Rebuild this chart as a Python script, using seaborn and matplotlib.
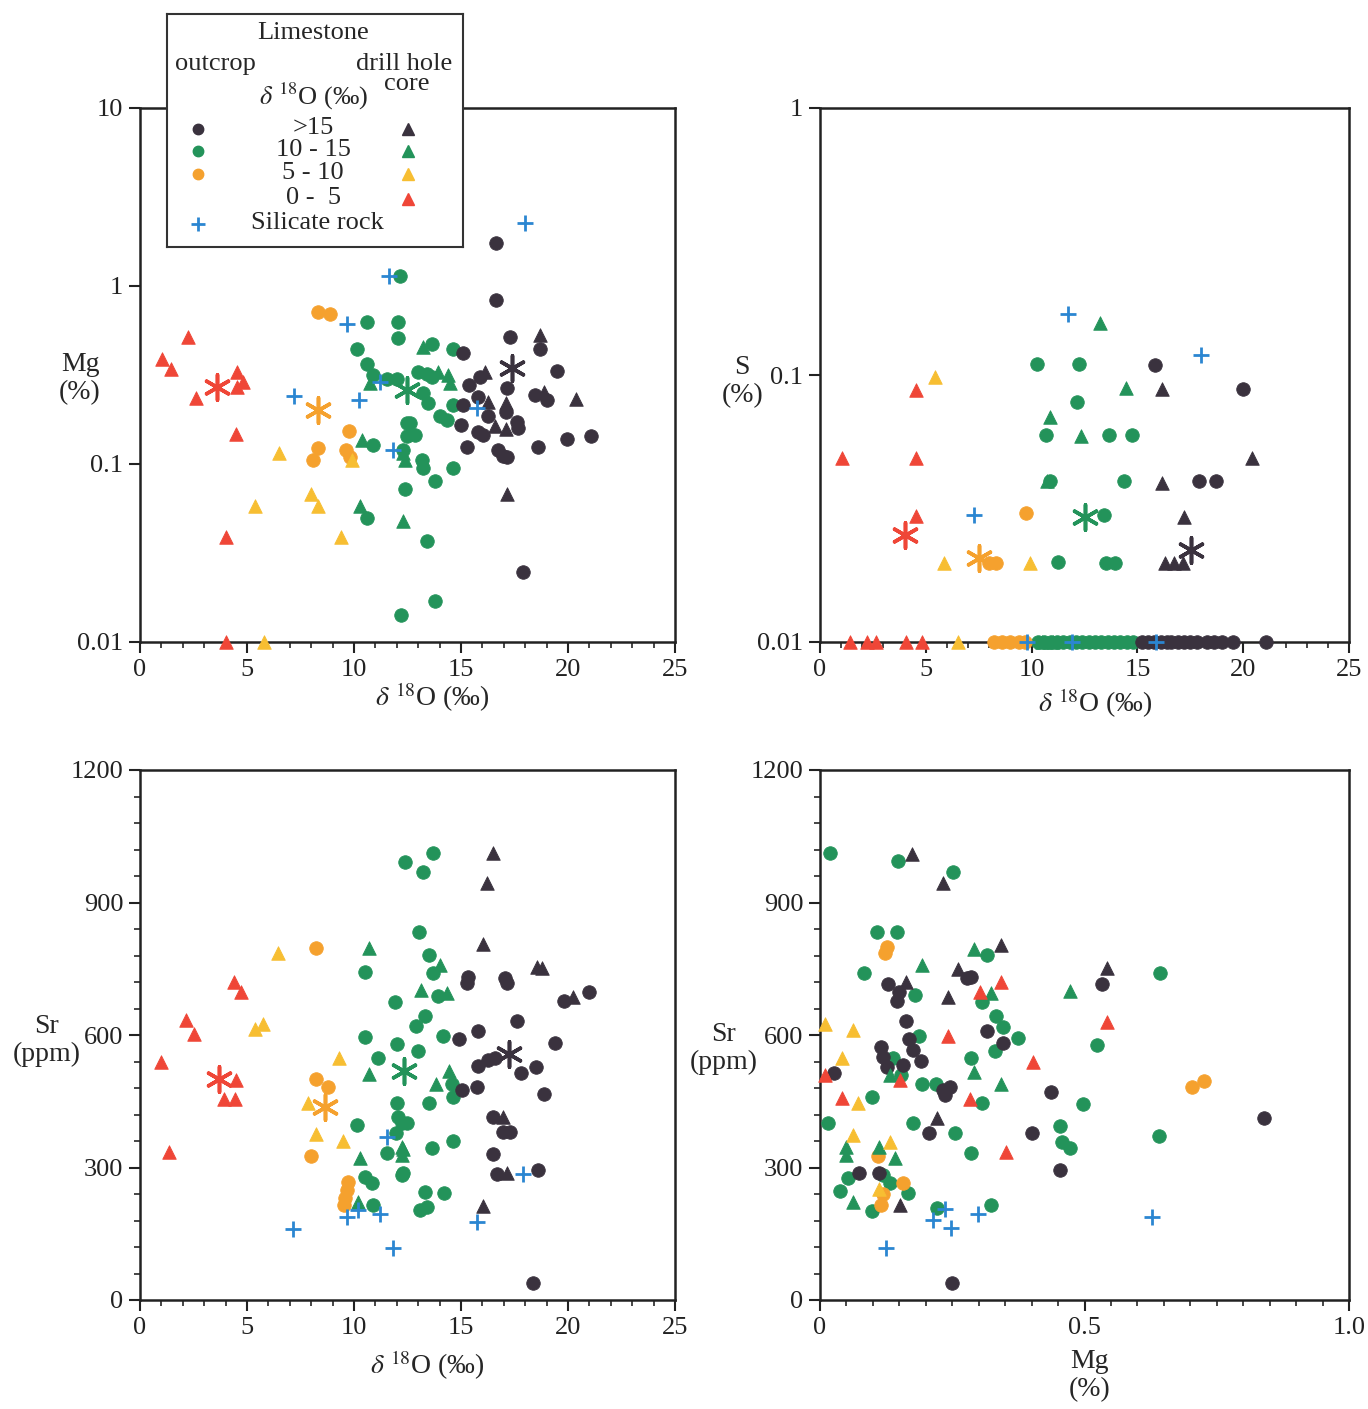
import numpy as np
import pandas as pd
import matplotlib
matplotlib.use("Agg")
import matplotlib.pyplot as plt
import matplotlib.ticker as mticker
from matplotlib.lines import Line2D
import seaborn as sns

# ---------------- data ----------------
# Panel A: Mg (%) vs d18O (permil)
A_dark_out = [(16.62,1.74),(16.62,0.83),(17.29,0.52),(18.69,0.44),(19.47,0.334),(15.89,0.31),(15.39,0.278),
              (17.17,0.266),(18.46,0.244),(19.0,0.229),(15.81,0.239),(15.11,0.214),(17.1,0.197),(16.28,0.185),
              (17.6,0.173),(17.68,0.159),(14.98,0.166),(15.81,0.152),(16.04,0.146),(19.97,0.139),(21.06,0.144),
              (15.26,0.124),(18.58,0.124),(16.74,0.12),(16.98,0.111),(17.13,0.11),(17.88,0.0248),(15.11,0.42)]
A_dark_core = [(18.69,0.53),(16.12,0.33),(18.88,0.255),(20.37,0.232),(16.28,0.224),(17.1,0.219),(16.59,0.163),
               (17.1,0.157),(17.13,0.068)]
A_green_out = [(12.15,1.14),(10.59,0.625),(12.07,0.625),(12.07,0.51),(10.16,0.44),(10.59,0.365),(10.9,0.316),
               (11.53,0.30),(12.0,0.30),(12.46,0.17),(12.46,0.143),(10.9,0.128),(12.3,0.12),(12.38,0.072),
               (10.59,0.0495),(12.2,0.0142),(13.63,0.47),(14.64,0.44),(13.0,0.33),(13.4,0.32),(13.63,0.31),
               (13.24,0.25),(13.47,0.22),(14.64,0.214),(14.02,0.185),(14.33,0.177),(12.62,0.17),(12.85,0.146),
               (13.16,0.105),(13.24,0.095),(14.64,0.095),(13.79,0.08),(13.4,0.037),(13.79,0.017)]
A_green_core = [(10.75,0.284),(10.36,0.136),(12.38,0.105),(10.28,0.058),(12.3,0.048),(13.24,0.456),(13.94,0.33),
                (14.41,0.316),(14.49,0.284),(12.3,0.115)]
A_orange_out = [(8.30,0.71),(8.88,0.70),(9.78,0.154),(8.30,0.123),(8.07,0.105),(9.63,0.12),(9.8,0.11)]
A_orange_core = [(9.89,0.105),(6.51,0.116),(7.98,0.068),(8.30,0.058),(5.37,0.058),(9.38,0.039),(5.79,0.01)]
A_red_core = [(2.23,0.52),(1.01,0.39),(1.43,0.34),(4.52,0.33),(4.8,0.29),(4.52,0.27),(2.62,0.234),
              (4.49,0.147),(4.0,0.039),(4.0,0.01)]
A_silicate = [(11.65,1.14),(9.69,0.61),(7.2,0.24),(10.25,0.23),(11.84,0.12),(17.99,2.27),(15.76,0.206),(11.2,0.29)]
A_means = {"dark": (17.37,0.345), "green": (12.48,0.26), "orange": (8.33,0.20), "red": (3.61,0.27)}

# Panel B: S (%) vs d18O (permil)
B_dark_out = [(15.85,0.109),(20.0,0.089),(17.89,0.040),(18.71,0.040),(15.2,0.01),(15.5,0.01),(15.8,0.01),
              (16.1,0.01),(16.4,0.01),(16.6,0.01),(16.9,0.01),(17.2,0.01),(17.5,0.01),(17.8,0.01),(18.3,0.01),
              (18.6,0.01),(19.0,0.01),(19.5,0.01),(21.1,0.01)]
B_dark_core = [(16.15,0.089),(20.4,0.049),(16.15,0.0395),(17.22,0.0295),(16.32,0.0197),(16.75,0.0197),(17.14,0.0197)]
B_green_out = [(10.25,0.110),(12.23,0.110),(12.14,0.079),(10.66,0.0596),(10.85,0.040),(11.24,0.020),
               (13.65,0.0596),(14.75,0.0596),(14.35,0.040),(13.44,0.030),(13.52,0.0197),(13.92,0.0197),
               (10.3,0.01),(10.6,0.01),(10.9,0.01),(11.2,0.01),(11.5,0.01),(11.8,0.01),(12.1,0.01),(12.4,0.01),
               (12.7,0.01),(13.0,0.01),(13.3,0.01),(13.6,0.01),(13.9,0.01),(14.2,0.01),(14.5,0.01),(14.8,0.01)]
B_green_core = [(13.24,0.157),(14.47,0.0892),(10.85,0.0695),(12.34,0.059),(10.75,0.040),(10.5,0.01),(11.0,0.01)]
B_orange_out = [(9.72,0.0303),(8.0,0.0197),(8.3,0.0197),(8.2,0.01),(8.6,0.01),(9.0,0.01),(9.4,0.01),(9.7,0.01)]
B_orange_core = [(5.42,0.098),(5.85,0.0197),(9.94,0.0197),(6.52,0.01)]
B_red_core = [(4.53,0.088),(1.02,0.049),(4.53,0.049),(4.53,0.0296),(1.42,0.01),(2.2,0.01),(2.64,0.01),
              (4.06,0.01),(4.84,0.01)]
B_silicate = [(11.71,0.169),(18.0,0.119),(7.26,0.030),(9.8,0.01),(11.9,0.01),(15.88,0.01)]
B_means = {"dark": (17.53,0.0221), "green": (12.5,0.0295), "orange": (7.51,0.0207), "red": (4.0,0.0251)}

# Panel C: Sr (ppm) vs d18O (permil)
C_dark_out = [(15.26,717),(15.34,732),(17.06,728),(17.16,717),(19.81,678),(20.99,698),(17.6,632),(14.92,591),
              (15.81,609),(19.39,583),(15.81,530),(16.28,543),(16.59,547),(17.79,515),(18.49,527),(15.03,475),
              (15.73,483),(18.88,466),(16.51,415),(16.98,381),(17.29,381),(16.51,330),(16.67,285),(18.61,294),
              (18.38,38)]
C_dark_core = [(16.51,1011),(16.2,945),(16.01,805),(18.53,755),(18.77,751),(20.25,687),(16.98,415),(17.13,287),
               (16.01,213)]
C_green_out = [(12.38,992),(13.71,1013),(13.21,968),(13.05,834),(13.52,781),(13.71,740),(10.51,743),(11.92,675),
               (13.94,688),(13.32,644),(12.9,620),(10.51,596),(12.0,580),(14.17,598),(11.14,547),(13.0,564),
               (14.57,490),(14.64,460),(12.0,445),(13.52,445),(10.12,396),(12.07,415),(12.23,400),(11.96,377),
               (12.46,400),(13.63,345),(14.61,361),(11.53,332),(12.3,287),(10.51,279),(10.83,264),(12.23,283),
               (10.9,215),(13.32,245),(14.21,242),(13.08,204),(13.4,211)]
C_green_core = [(10.72,796),(14.02,758),(13.12,702),(14.33,696),(10.72,512),(14.45,519),(13.83,490),(12.23,347),
                (12.23,328),(12.3,343),(10.28,321),(10.2,223)]
C_orange_out = [(8.22,798),(8.22,500),(8.8,483),(8.0,326),(9.73,268),(9.66,249),(9.58,230),(9.53,215)]
C_orange_core = [(6.43,785),(5.37,613),(5.73,625),(9.31,547),(7.87,447),(8.22,376),(9.5,359)]
C_red_core = [(4.41,721),(4.72,698),(2.15,634),(2.54,602),(0.97,540),(4.49,497),(3.94,456),(4.44,454),(1.37,336)]
C_silicate = [(11.56,370),(9.66,189),(10.2,204),(11.21,195),(7.13,160),(11.84,117),(17.91,285),(15.73,177)]
C_means = {"dark": (17.26,558), "green": (12.35,519), "orange": (8.64,438), "red": (3.71,500)}

# Panel D: Sr (ppm) vs Mg (%)
D_dark_out = [(0.277,728),(0.286,732),(0.128,715),(0.150,698),(0.145,678),(0.162,632),(0.169,590),(0.176,566),
              (0.316,609),(0.346,583),(0.115,572),(0.12,551),(0.19,542),(0.126,528),(0.156,532),(0.026,515),
              (0.233,475),(0.245,483),(0.236,464),(0.437,470),(0.206,379),(0.401,379),(0.454,294),(0.074,287),
              (0.112,287),(0.25,39),(0.533,715),(0.84,411)]
D_dark_core = [(0.173,1010),(0.233,945),(0.343,803),(0.261,749),(0.162,721),(0.242,687),(0.221,411),(0.152,215),
               (0.543,751)]
D_green_out = [(0.019,1013),(0.148,995),(0.252,970),(0.108,834),(0.145,834),(0.316,781),(0.084,740),(0.179,690),
               (0.307,674),(0.333,643),(0.346,619),(0.187,598),(0.374,594),(0.330,564),(0.138,547),(0.286,547),
               (0.154,509),(0.192,490),(0.22,490),(0.497,444),(0.098,459),(0.306,445),(0.016,401),(0.176,400),
               (0.255,379),(0.454,394),(0.458,358),(0.473,345),(0.286,332),(0.053,277),(0.12,283),(0.132,264),
               (0.167,243),(0.038,247),(0.098,202),(0.221,209),(0.324,215),(0.642,741),(0.523,577),(0.64,371)]
D_green_core = [(0.292,794),(0.192,758),(0.324,696),(0.472,700),(0.132,509),(0.292,517),(0.343,490),(0.05,347),
                (0.05,328),(0.112,347),(0.142,321),(0.062,223)]
D_orange_out = [(0.126,800),(0.123,785),(0.11,325),(0.157,266),(0.12,240),(0.116,215),(0.704,482),(0.726,496)]
D_orange_core = [(0.0094,626),(0.0617,611),(0.041,547),(0.072,447),(0.062,374),(0.132,358),(0.112,251)]
D_red_core = [(0.302,698),(0.343,719),(0.242,598),(0.402,538),(0.0094,509),(0.152,497),(0.041,457),(0.283,454),
              (0.352,336),(0.543,630)]
D_silicate = [(0.236,205),(0.213,181),(0.248,162),(0.299,195),(0.125,117),(0.628,189)]
D_means = {}

legend_rows = [">15", "10 - 15", "5 - 10", "0 -  5"]

# ---------------- styling ----------------
COL = {"dark": "#3a323e", "green": "#23935a", "orange": "#f5a12e", "orange_t": "#f7be32",
       "red": "#ef4637", "blue": "#2b86d1"}

sns.set_style("ticks")
plt.rcParams["font.family"] = ["Liberation Serif", "DejaVu Serif"]
plt.rcParams["mathtext.fontset"] = "stix"
plt.rcParams["axes.linewidth"] = 1.8
plt.rcParams["axes.edgecolor"] = "#222222"

FS = 19
fig = plt.figure(figsize=(13.68, 14.09), dpi=100)
fig.patch.set_facecolor("white")

W, H = 1368, 1409
def frac(l, t, r, b):
    return [l / W, 1 - b / H, (r - l) / W, (b - t) / H]

axA = fig.add_axes(frac(140, 108, 675, 642))
axB = fig.add_axes(frac(820, 108, 1349, 642))
axC = fig.add_axes(frac(140, 770, 675, 1300))
axD = fig.add_axes(frac(820, 770, 1349, 1300))


def to_df(pts):
    return pd.DataFrame(pts, columns=["x", "y"])


def draw(ax, groups, means):
    for pts, c in groups["out"]:
        sns.scatterplot(data=to_df(pts), x="x", y="y", ax=ax, marker="o", s=95, color=c,
                        edgecolor=c, linewidth=0.6, clip_on=False, zorder=3)
    for pts, c in groups["core"]:
        sns.scatterplot(data=to_df(pts), x="x", y="y", ax=ax, marker="^", s=95, color=c,
                        edgecolor=c, linewidth=0.6, clip_on=False, zorder=3)
    sns.scatterplot(data=to_df(groups["sil"]), x="x", y="y", ax=ax, marker="+", s=130,
                    color=COL["blue"], linewidth=2.0, clip_on=False, zorder=4)
    for k, (mx, my) in means.items():
        sns.scatterplot(x=[mx], y=[my], ax=ax, marker=(6, 2, 0), s=330, color=COL[k],
                        linewidth=2.6, zorder=5)


draw(axA, {"out": [(A_green_out, COL["green"]), (A_orange_out, COL["orange"]), (A_dark_out, COL["dark"])],
           "core": [(A_green_core, COL["green"]), (A_orange_core, COL["orange_t"]), (A_dark_core, COL["dark"]),
                    (A_red_core, COL["red"])],
           "sil": A_silicate}, A_means)
draw(axB, {"out": [(B_green_out, COL["green"]), (B_orange_out, COL["orange"]), (B_dark_out, COL["dark"])],
           "core": [(B_green_core, COL["green"]), (B_orange_core, COL["orange_t"]), (B_dark_core, COL["dark"]),
                    (B_red_core, COL["red"])],
           "sil": B_silicate}, B_means)
draw(axC, {"out": [(C_green_out, COL["green"]), (C_orange_out, COL["orange"]), (C_dark_out, COL["dark"])],
           "core": [(C_green_core, COL["green"]), (C_orange_core, COL["orange_t"]), (C_dark_core, COL["dark"]),
                    (C_red_core, COL["red"])],
           "sil": C_silicate}, C_means)
draw(axD, {"out": [(D_green_out, COL["green"]), (D_orange_out, COL["orange"]), (D_dark_out, COL["dark"])],
           "core": [(D_green_core, COL["green"]), (D_orange_core, COL["orange_t"]), (D_dark_core, COL["dark"]),
                    (D_red_core, COL["red"])],
           "sil": D_silicate}, D_means)

d18 = r"$\delta$ $^{18}$O (‰)"
for ax in (axA, axB):
    ax.set_yscale("log")
    ax.set_xlim(0, 25)
    ax.xaxis.set_major_locator(mticker.MultipleLocator(5))
    ax.xaxis.set_minor_locator(mticker.MultipleLocator(1))
    ax.yaxis.set_minor_locator(mticker.NullLocator())
    ax.yaxis.set_major_formatter(mticker.FuncFormatter(lambda v, p: ("%g" % v)))
axA.set_ylim(0.01, 10)
axA.set_yticks([0.01, 0.1, 1, 10])
axB.set_ylim(0.01, 1)
axB.set_yticks([0.01, 0.1, 1])

for ax in (axC, axD):
    ax.set_ylim(0, 1200)
    ax.yaxis.set_major_locator(mticker.MultipleLocator(300))
    ax.yaxis.set_minor_locator(mticker.MultipleLocator(60))
axC.set_xlim(0, 25)
axC.xaxis.set_major_locator(mticker.MultipleLocator(5))
axC.xaxis.set_minor_locator(mticker.MultipleLocator(1))
axD.set_xlim(0, 1.0)
axD.set_xticks([0, 0.5, 1.0])
axD.set_xticklabels(["0", "0.5", "1.0"])
axD.xaxis.set_minor_locator(mticker.MultipleLocator(0.05))

for ax in (axA, axB, axC, axD):
    ax.tick_params(which="major", direction="out", length=8, width=1.5, labelsize=FS, pad=4, colors="#222222")
    ax.tick_params(which="minor", direction="out", length=4, width=1.2)
    ax.set_facecolor("white")
    for sp in ax.spines.values():
        sp.set_visible(True)
        sp.set_linewidth(1.8)
    ax.set_xlabel("")
    ax.set_ylabel("")

def ylab(ax, txt, x, y):
    ax.text(x, y, txt, transform=ax.transAxes, ha="center", va="center", fontsize=FS + 1, linespacing=1.15)

ylab(axA, "Mg\n(%)", -0.112, 0.494)
ylab(axB, "S\n(%)", -0.147, 0.487)
ylab(axC, "Sr\n(ppm)", -0.175, 0.49)
ylab(axD, "Sr\n(ppm)", -0.182, 0.475)
ylab(axA, d18, 0.546, -0.103)
ylab(axB, d18, 0.521, -0.114)
ylab(axC, d18, 0.538, -0.123)
ylab(axD, "Mg\n(%)", 0.509, -0.143)

# ---------------- legend box ----------------
lg = fig.add_axes(frac(167, 14, 463, 247))
lg.set_xlim(0, 296)
lg.set_ylim(233, 0)
lg.set_xticks([])
lg.set_yticks([])
lg.set_facecolor("white")
for sp in lg.spines.values():
    sp.set_linewidth(1.5)
    sp.set_color("#333333")
lg.set_zorder(10)
tkw = dict(ha="center", va="center", fontsize=FS)
lg.text(146, 19, "Limestone", **tkw)
lg.text(48, 50, "outcrop", **tkw)
lg.text(237, 50, "drill hole", **tkw)
lg.text(240, 70, "core", **tkw)
lg.text(147, 82, d18, **tkw)
row_y = [114, 136, 159, 184]
circ_c = [COL["dark"], COL["green"], COL["orange"], None]
tri_c = [COL["dark"], COL["green"], COL["orange_t"], COL["red"]]
for yy, lab, cc, tc in zip(row_y, legend_rows, circ_c, tri_c):
    lg.text(146, yy, lab, **tkw)
    if cc is not None:
        lg.add_line(Line2D([31], [yy + 1], marker="o", markersize=7.5, color=cc, linestyle="none"))
    lg.add_line(Line2D([241], [yy + 1], marker="^", markersize=8, color=tc, linestyle="none"))
lg.add_line(Line2D([31], [210], marker="+", markersize=10, markeredgewidth=2, color=COL["blue"], linestyle="none"))
lg.text(150, 209, "Silicate rock", **tkw)

fig.savefig("out.png", dpi=100, facecolor="white")
